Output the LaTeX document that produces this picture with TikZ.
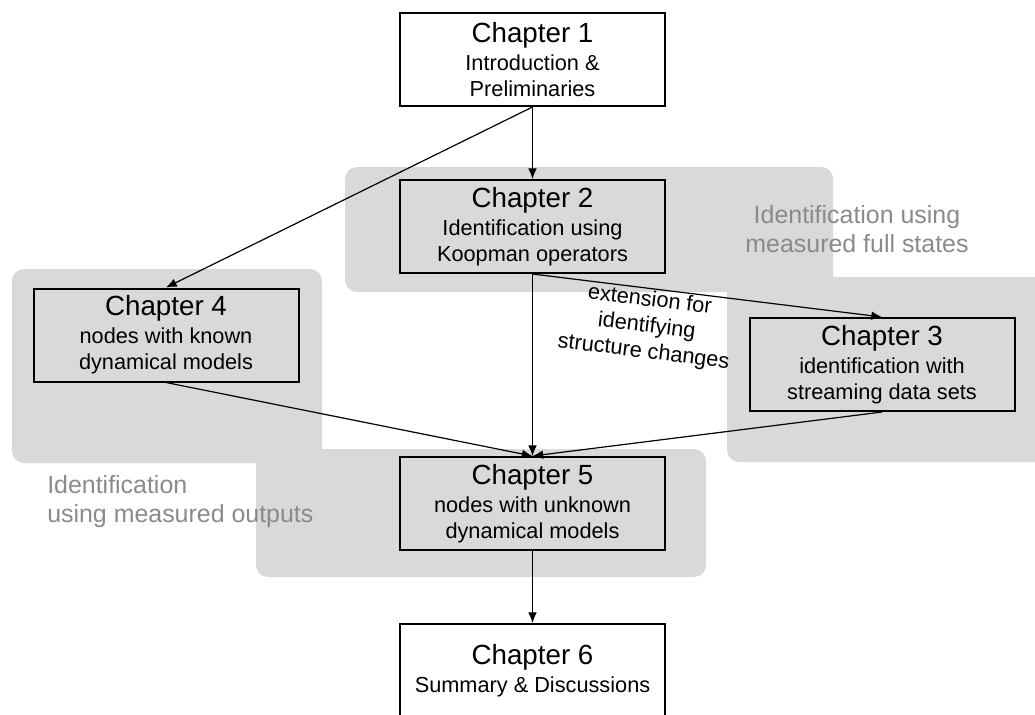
\documentclass[tikz,border=0pt]{standalone}
\usepackage{fontspec}
\setmainfont{Liberation Sans}
\usepackage{tikz}
\usetikzlibrary{arrows.meta}
\definecolor{regionGray}{HTML}{D9D9D9}
\definecolor{regionText}{HTML}{8A8A8A}
\newcommand{\chapFont}{\fontsize{20.8}{24}\selectfont}
\newcommand{\descFont}{\fontsize{16.3}{19.5}\selectfont}
\newcommand{\regionFont}{\fontsize{18.7}{22}\selectfont}

\begin{document}
\begin{tikzpicture}[x=0.75pt, y=-0.75pt,
    chapterBox/.style={draw, line width=1.5pt, minimum width=198.75pt,
        minimum height=69.75pt, align=center, font=\descFont, inner sep=0pt},
    region/.style={fill=regionGray, rounded corners=9pt},
    regionLabel/.style={text=regionText, font=\regionFont, inner sep=0pt},
    flow/.style={-{Latex[length=8pt, width=6.5pt]}, line width=0.9pt}]
    \clip (0,0) rectangle (1035,714);

    \fill[region] (345,167) rectangle (833,292);
    \fill[region] (727,277) rectangle (1050,462);
    \fill[region] (12,269) rectangle (322,463);
    \fill[region] (256,449) rectangle (706,577);

    \node[regionLabel, align=center, anchor=north] (fullStates) at (857,205)
        {Identification using\\ measured full states};
    \node[regionLabel, align=left, anchor=north west] (outputs) at (47,475)
        {Identification\\ using measured outputs};

    \node[chapterBox] (ch1) at (532.5,59.5)
        {{\chapFont Chapter 1}\\[1.5pt] Introduction \&\\ Preliminaries};
    \node[chapterBox] (ch2) at (532.5,226.5)
        {{\chapFont Chapter 2}\\[1.5pt] Identification using\\ Koopman operators};
    \node[chapterBox] (ch4) at (166,335)
        {{\chapFont Chapter 4}\\[1.5pt] nodes with known\\ dynamical models};
    \node[chapterBox] (ch3) at (882,364.5)
        {{\chapFont Chapter 3}\\[1.5pt] identification with\\ streaming data sets};
    \node[chapterBox] (ch5) at (532.5,503.5)
        {{\chapFont Chapter 5}\\[1.5pt] nodes with unknown\\ dynamical models};
    \node[chapterBox] (ch6) at (532.5,670.5)
        {{\chapFont Chapter 6}\\[1.5pt] Summary \& Discussions};

    \draw[flow] (ch1.south) -- (ch2.north);
    \draw[flow] (ch1.south) -- (ch4.north);
    \draw[flow] (ch2.south) -- (ch5.north);
    \draw[flow] (ch2.south) -- node[pos=0.34, sloped, below=1pt, font=\descFont,
        align=center, inner sep=0pt] (extLabel)
        {extension for\\ identifying\\ structure changes} (ch3.north);
    \draw[flow] (ch4.south) -- (ch5.north);
    \draw[flow] (ch3.south) -- (ch5.north);
    \draw[flow] (ch5.south) -- (ch6.north);
\end{tikzpicture}
\end{document}
